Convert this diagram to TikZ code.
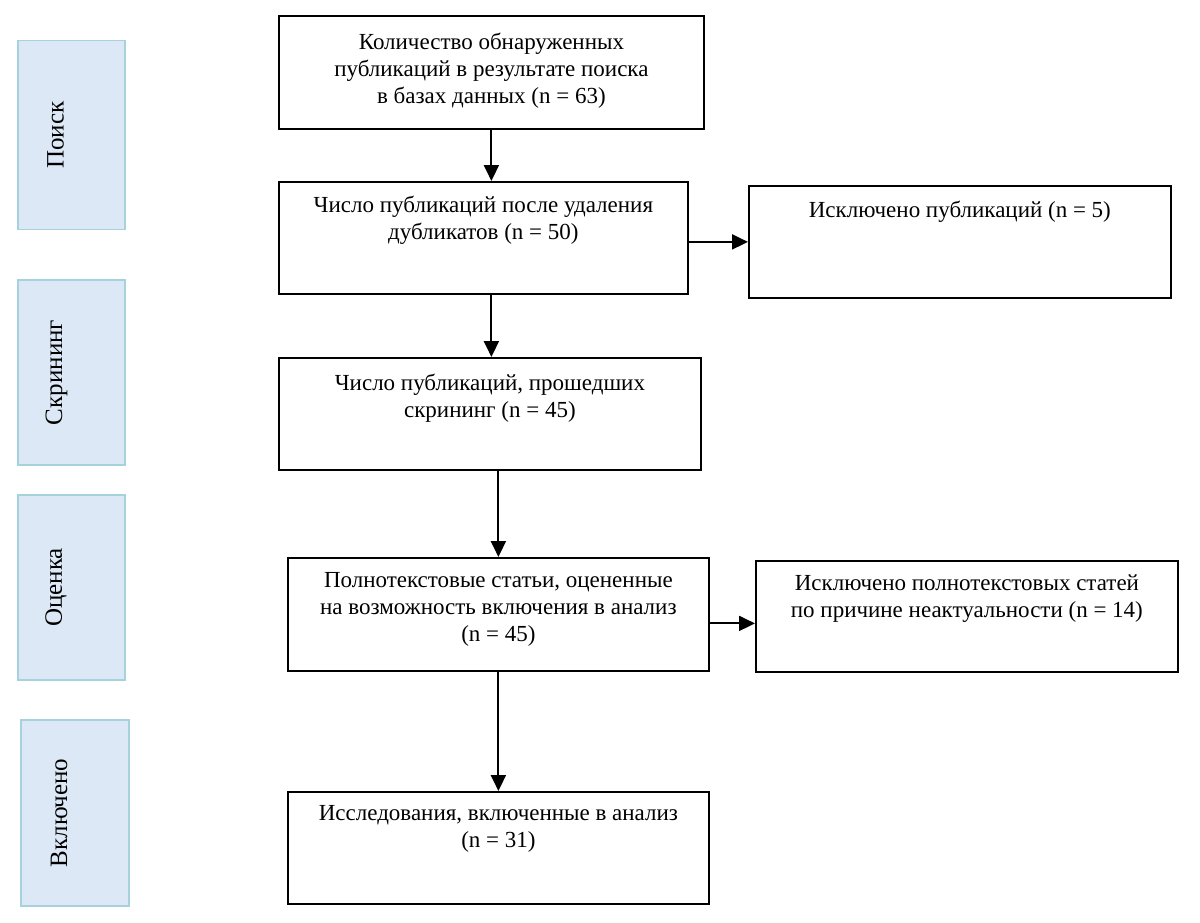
\documentclass[tikz,border=0pt]{standalone}
\usepackage{fontspec}
\setmainfont{Liberation Serif}
\usetikzlibrary{arrows.meta,calc}
\definecolor{stagefill}{HTML}{DCE8F5}
\definecolor{stageline}{HTML}{A6D2DE}
\newcommand{\bxtext}[4]{\parbox[c][#2][t]{#1}{\centering\fontsize{23}{27}\selectfont\vspace*{#3}#4}}
\begin{document}
\begin{tikzpicture}[x=1pt,y=-1pt,
  stagebox/.style={draw=stageline,fill=stagefill,line width=1.6pt,minimum width=107pt,minimum height=189pt,inner sep=0pt,font=\fontsize{25}{28}\selectfont},
  flowbox/.style={draw=black,line width=1.8pt,inner sep=0pt,anchor=north west},
  arr/.style={line width=2pt,-{Triangle[length=16pt,width=15pt]}}]
\useasboundingbox (0,0) rectangle (1200,922);
% stage labels
\node[stagebox] (s1) at (71.5,135) {\rotatebox{90}{Поиск}\hspace*{32pt}};
\node[stagebox,minimum height=185pt] (s2) at (71.5,372.5) {\rotatebox{90}{Скрининг}\hspace*{30pt}};
\node[stagebox,minimum height=185pt] (s3) at (71.5,587.5) {\rotatebox{90}{Оценка}\hspace*{31pt}};
\node[stagebox,minimum width=108pt,minimum height=186pt] (s4) at (75,813) {\rotatebox{90}{Включено}\hspace*{32pt}};
% flow boxes
\node[flowbox] (b1) at (278,15) {\bxtext{425pt}{113pt}{17pt}{Количество обнаруженных\\публикаций в результате поиска\\в базах данных (n = 63)}};
\node[flowbox] (b2) at (278,181) {\bxtext{409pt}{112pt}{14pt}{Число публикаций после удаления\\дубликатов (n = 50)}};
\node[flowbox] (e1) at (748,185) {\bxtext{422pt}{112pt}{15pt}{Исключено публикаций (n = 5)}};
\node[flowbox] (b3) at (278,357) {\bxtext{422pt}{112pt}{16pt}{Число публикаций, прошедших\\скрининг (n = 45)}};
\node[flowbox] (b4) at (287,557) {\bxtext{421pt}{113pt}{15pt}{Полнотекстовые статьи, оцененные\\на возможность включения в анализ\\(n = 45)}};
\node[flowbox] (e2) at (755,560) {\bxtext{422pt}{111pt}{14pt}{Исключено полнотекстовых статей\\по причине неактуальности (n = 14)}};
\node[flowbox] (b5) at (287,791) {\bxtext{421pt}{112pt}{14pt}{Исследования, включенные в анализ\\(n = 31)}};
% connectors
\draw[arr] (b1.south) -- (b1.south |- b2.north);
\draw[arr] (b1.south |- b2.south) -- (b1.south |- b3.north);
\draw[arr] (b4.north |- b3.south) -- (b4.north);
\draw[arr] (b4.south) -- (b5.north);
\draw[arr] (b2.east |- e1.west) -- (e1.west);
\draw[arr] ([yshift=-9pt]b4.east) -- ([yshift=-9pt]b4.east -| e2.west);
\end{tikzpicture}
\end{document}
